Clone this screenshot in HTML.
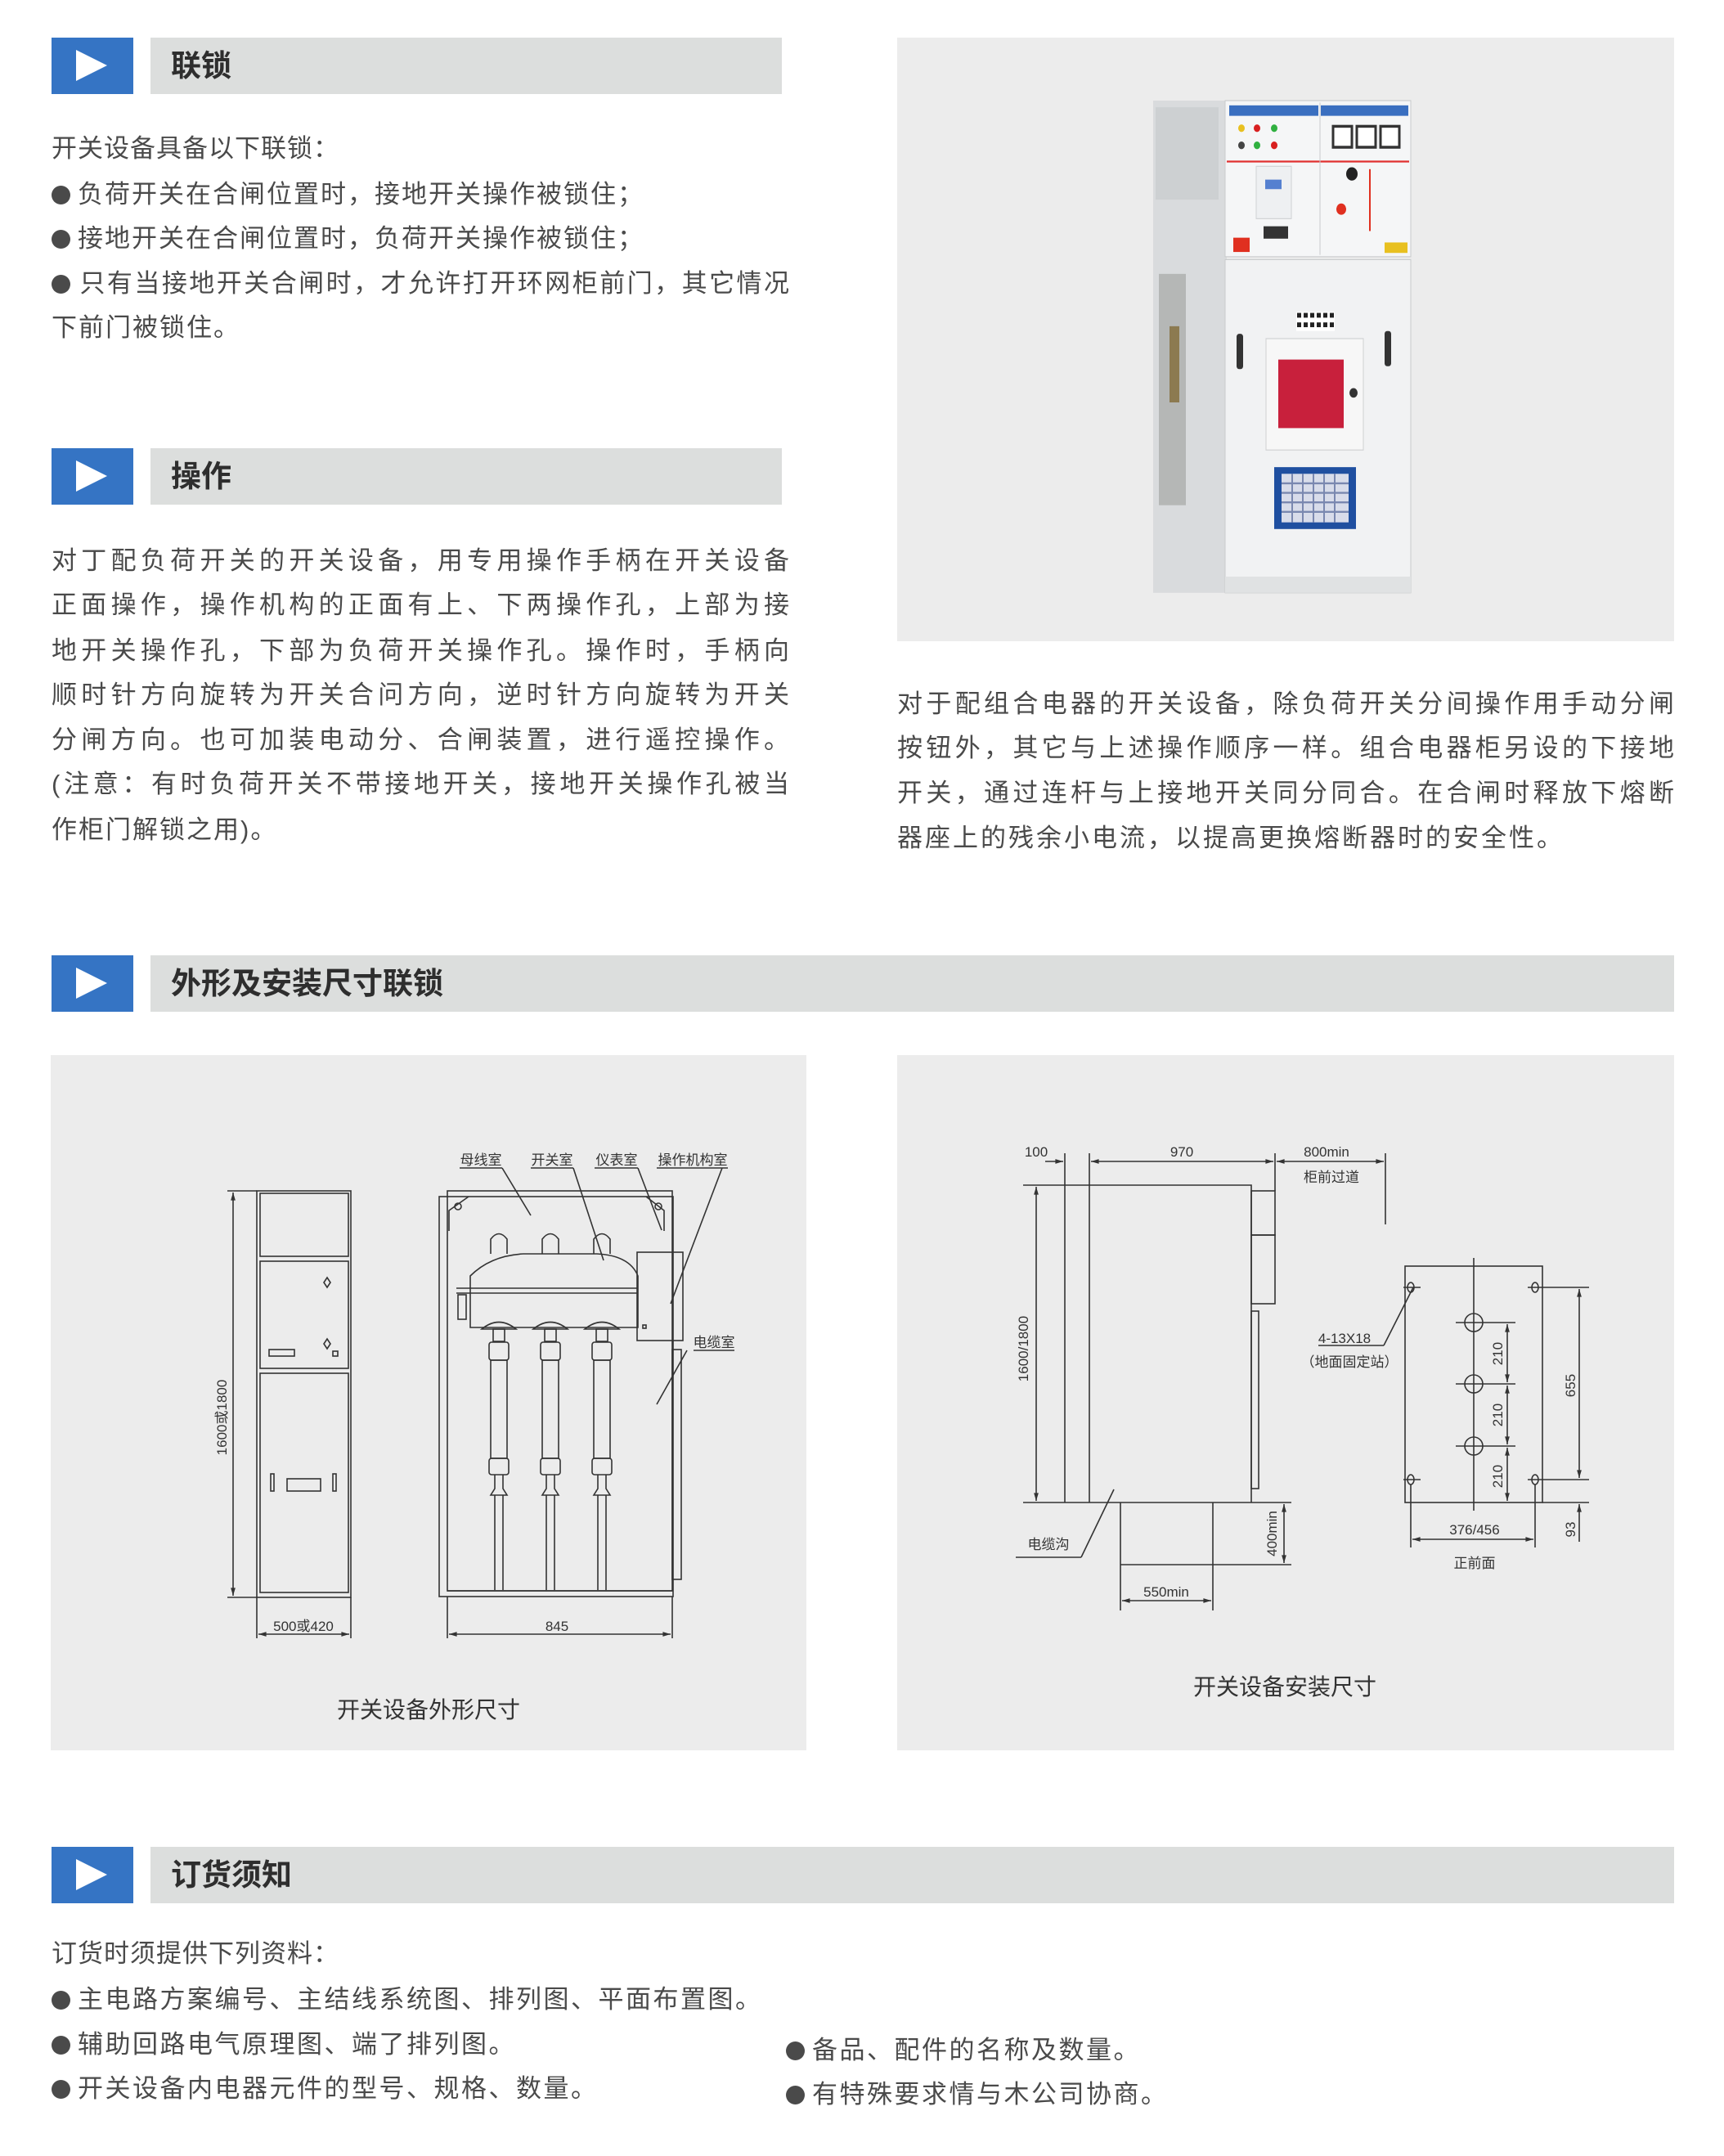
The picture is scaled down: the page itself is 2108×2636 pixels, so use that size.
<!DOCTYPE html>
<html><head><meta charset="utf-8">
<style>
*{margin:0;padding:0;box-sizing:border-box}
body{width:2108px;height:2636px;background:#fff;position:relative;overflow:hidden;font-family:"Liberation Sans","Noto Sans CJK SC",sans-serif;color:#4a4a4a}
.l{position:absolute;font-size:31px;line-height:54px;height:54px;white-space:nowrap}
.j{text-align:justify;text-align-last:justify}
.h{position:absolute;font-size:37px;font-weight:bold;color:#2e2e2e;line-height:69px;height:69px}
.b{display:inline-block;width:23px;height:23px;border-radius:50%;background:#4a4a4a;margin-right:9px;vertical-align:-2px}
svg{position:absolute;left:0;top:0}
</style></head><body>
<svg width="2108" height="2636" viewBox="0 0 2108 2636" font-family="Liberation Sans, Noto Sans CJK SC, sans-serif">
<defs>
<marker id="a" viewBox="0 0 10 10" refX="10" refY="5" markerWidth="9" markerHeight="6" orient="auto-start-reverse"><path d="M0,2 L10,5 L0,8 z" fill="#333"/></marker>
</defs>
<g>
<rect x="63" y="46" width="100" height="69" fill="#3574c4"/><path d="M93,61 L131,80 L93,99z" fill="#fff"/><rect x="184" y="46" width="772" height="69" fill="#dcdedd"/>
<rect x="63" y="548" width="100" height="69" fill="#3574c4"/><path d="M93,563 L131,582 L93,601z" fill="#fff"/><rect x="184" y="548" width="772" height="69" fill="#dcdedd"/>
<rect x="63" y="1168" width="100" height="69" fill="#3574c4"/><path d="M93,1183 L131,1202 L93,1221z" fill="#fff"/><rect x="184" y="1168" width="1863" height="69" fill="#dcdedd"/>
<rect x="63" y="2258" width="100" height="69" fill="#3574c4"/><path d="M93,2273 L131,2292 L93,2311z" fill="#fff"/><rect x="184" y="2258" width="1863" height="69" fill="#dcdedd"/>
</g>
<rect x="1097" y="46" width="950" height="738" fill="#ececec"/>
<g transform="translate(0,123) scale(1,1.164) translate(0,-123)">
<rect x="1410" y="123" width="90" height="517" fill="#d9dbdd"/>
<rect x="1413" y="130" width="77" height="97" fill="#cdd0d2"/>
<rect x="1417" y="305" width="33" height="243" fill="#b5b7b6"/>
<rect x="1430" y="360" width="12" height="80" fill="#8c7a50"/>
<rect x="1498" y="123" width="227" height="164" fill="#f5f6f7" stroke="#c9cbcc"/>
<rect x="1503" y="128" width="109" height="11" fill="#3a6fc0"/><rect x="1615" y="128" width="107" height="11" fill="#3a6fc0"/>
<line x1="1500" y1="187" x2="1723" y2="187" stroke="#e03030" stroke-width="2"/>
<line x1="1614" y1="125" x2="1614" y2="285" stroke="#c9cbcc"/>
<circle cx="1518" cy="152" r="4" fill="#e8c020"/><circle cx="1537" cy="152" r="4" fill="#d82020"/><circle cx="1558" cy="152" r="4" fill="#30b040"/>
<circle cx="1518" cy="170" r="4" fill="#444"/><circle cx="1537" cy="170" r="4" fill="#30b040"/><circle cx="1558" cy="170" r="4" fill="#d82020"/>
<rect x="1536" y="192" width="43" height="55" fill="#eef0f2" stroke="#d0d2d4"/><rect x="1547" y="206" width="20" height="10" fill="#5580d0"/>
<rect x="1545" y="255" width="30" height="13" fill="#333"/><rect x="1508" y="267" width="20" height="15" fill="#e03020"/>
<rect x="1630" y="150" width="23" height="22" fill="#fff" stroke="#333" stroke-width="3"/><rect x="1659" y="150" width="23" height="22" fill="#fff" stroke="#333" stroke-width="3"/><rect x="1688" y="150" width="23" height="22" fill="#fff" stroke="#333" stroke-width="3"/>
<circle cx="1653" cy="200" r="7" fill="#222"/><circle cx="1640" cy="237" r="6" fill="#e03020"/>
<path d="M1675,195 L1675,260" stroke="#e03020" stroke-width="2"/>
<rect x="1693" y="272" width="28" height="11" fill="#e8c020"/>
<rect x="1498" y="290" width="227" height="350" fill="#f1f2f3" stroke="#c9cbcc"/>
<rect x="1498" y="623" width="227" height="17" fill="#e0e2e3"/>
<rect x="1585" y="345" width="47" height="20" fill="#fff"/>
<g fill="#222"><rect x="1586" y="346" width="5" height="5"/><rect x="1594" y="346" width="5" height="5"/><rect x="1602" y="346" width="5" height="5"/><rect x="1610" y="346" width="5" height="5"/><rect x="1618" y="346" width="5" height="5"/><rect x="1626" y="346" width="5" height="5"/><rect x="1586" y="356" width="5" height="5"/><rect x="1594" y="356" width="5" height="5"/><rect x="1602" y="356" width="5" height="5"/><rect x="1610" y="356" width="5" height="5"/><rect x="1618" y="356" width="5" height="5"/><rect x="1626" y="356" width="5" height="5"/></g>
<rect x="1512" y="368" width="8" height="37" rx="3" fill="#333"/><rect x="1693" y="365" width="8" height="37" rx="3" fill="#333"/>
<rect x="1548" y="373" width="119" height="117" fill="#f7f7f7" stroke="#cfd1d2"/>
<rect x="1563" y="395" width="80" height="72" fill="#c8203c"/>
<circle cx="1655" cy="430" r="5" fill="#333"/>
<rect x="1558" y="508" width="100" height="65" fill="#1f4fa0"/>
<rect x="1567" y="515" width="82" height="51" fill="#d8dcea"/>
<g stroke="#7a88b0" stroke-width="2"><line x1="1567" y1="525" x2="1649" y2="525"/><line x1="1567" y1="535" x2="1649" y2="535"/><line x1="1567" y1="545" x2="1649" y2="545"/><line x1="1567" y1="555" x2="1649" y2="555"/><line x1="1580" y1="515" x2="1580" y2="566"/><line x1="1593" y1="515" x2="1593" y2="566"/><line x1="1606" y1="515" x2="1606" y2="566"/><line x1="1619" y1="515" x2="1619" y2="566"/><line x1="1632" y1="515" x2="1632" y2="566"/></g>
</g>
<rect x="62" y="1290" width="924" height="850" fill="#ececec"/>
<rect x="1097" y="1290" width="950" height="850" fill="#ececec"/>
<g fill="none" stroke="#333" stroke-width="1.6">
<rect x="314" y="1456" width="115" height="497"/>
<rect x="318" y="1459" width="108" height="77"/>
<rect x="318" y="1542" width="108" height="131"/>
<rect x="318" y="1679" width="108" height="268"/>
<path d="M400,1562 l4,6 l-4,6 l-4,-6z M400,1637 l4,6 l-4,6 l-4,-6z"/>
<rect x="329" y="1650" width="31" height="8"/><rect x="407" y="1652" width="6" height="6"/>
<rect x="331" y="1802" width="4" height="21"/><rect x="351" y="1808" width="41" height="15"/><rect x="407" y="1802" width="4" height="21"/>
<line x1="278" y1="1456" x2="314" y2="1456"/><line x1="278" y1="1953" x2="314" y2="1953"/>
<line x1="285" y1="1458" x2="285" y2="1951" marker-start="url(#a)" marker-end="url(#a)"/>
<line x1="314" y1="1953" x2="314" y2="2003"/><line x1="429" y1="1953" x2="429" y2="2003"/>
<line x1="316" y1="1998" x2="427" y2="1998" marker-start="url(#a)" marker-end="url(#a)"/>
<rect x="537" y="1463" width="286" height="489"/>
<rect x="547" y="1456" width="275" height="489"/>
<line x1="547" y1="1945" x2="822" y2="1945"/>
<rect x="822" y="1650" width="11" height="281"/>
<path d="M549,1505 L549,1480 L573,1463 M812,1505 L812,1480 L790,1463"/>
<circle cx="560" cy="1475" r="4"/><circle cx="805" cy="1475" r="4"/>
<path d="M575,1623 L575,1560 Q600,1535 640,1533 L730,1533 Q770,1535 780,1560 L780,1623 Z"/>
<line x1="558" y1="1575" x2="779" y2="1575"/><line x1="558" y1="1581" x2="779" y2="1581"/>
<rect x="560" y="1583" width="10" height="30"/>
<path d="M600,1533 L600,1515 Q610,1502 620,1515 L620,1533 M663,1533 L663,1515 Q673,1502 683,1515 L683,1533 M726,1533 L726,1515 Q736,1502 746,1515 L746,1533"/>
<path d="M589,1625 Q610,1608 631,1625 Z M652,1625 Q673,1608 694,1625 Z M715,1625 Q736,1608 757,1625 Z"/>
<rect x="603" y="1625" width="14" height="15"/><rect x="666" y="1625" width="14" height="15"/><rect x="729" y="1625" width="14" height="15"/>
<rect x="598" y="1641" width="24" height="22" rx="3"/><rect x="661" y="1641" width="24" height="22" rx="3"/><rect x="724" y="1641" width="24" height="22" rx="3"/>
<rect x="600" y="1663" width="20" height="120"/><rect x="663" y="1663" width="20" height="120"/><rect x="726" y="1663" width="20" height="120"/>
<rect x="598" y="1783" width="24" height="20" rx="3"/><rect x="661" y="1783" width="24" height="20" rx="3"/><rect x="724" y="1783" width="24" height="20" rx="3"/>
<path d="M605,1803 L605,1820 L600,1828 L620,1828 L615,1820 L615,1803 M668,1803 L668,1820 L663,1828 L683,1828 L678,1820 L678,1803 M731,1803 L731,1820 L726,1828 L746,1828 L741,1820 L741,1803"/>
<path d="M605,1828 V1944 M615,1828 V1944 M668,1828 V1944 M678,1828 V1944 M731,1828 V1944 M741,1828 V1944"/>
<rect x="779" y="1531" width="56" height="108"/><rect x="786" y="1620" width="4" height="4"/>
<line x1="562" y1="1428" x2="614" y2="1428"/><line x1="614" y1="1428" x2="649" y2="1486"/>
<line x1="649" y1="1428" x2="701" y2="1428"/><line x1="701" y1="1428" x2="738" y2="1541"/>
<line x1="727" y1="1428" x2="780" y2="1428"/><line x1="780" y1="1428" x2="809" y2="1504"/>
<line x1="803" y1="1428" x2="890" y2="1428"/><line x1="883" y1="1428" x2="820" y2="1594"/>
<line x1="848" y1="1651" x2="898" y2="1651"/><line x1="840" y1="1651" x2="803" y2="1717"/>
<line x1="547" y1="1952" x2="547" y2="2003"/><line x1="822" y1="1952" x2="822" y2="2003"/>
<line x1="549" y1="1998" x2="820" y2="1998" marker-start="url(#a)" marker-end="url(#a)"/>
</g>
<g font-size="17" fill="#333">
<text x="277" y="1733" transform="rotate(-90 277 1733)" text-anchor="middle">1600或1800</text>
<text x="371" y="1994" text-anchor="middle">500或420</text>
<text x="681" y="1994" text-anchor="middle">845</text>
<text x="588" y="1424" text-anchor="middle">母线室</text>
<text x="675" y="1424" text-anchor="middle">开关室</text>
<text x="754" y="1424" text-anchor="middle">仪表室</text>
<text x="847" y="1424" text-anchor="middle">操作机构室</text>
<text x="873" y="1647" text-anchor="middle">电缆室</text>
</g>
<g fill="none" stroke="#333" stroke-width="1.6">
<line x1="1302" y1="1410" x2="1302" y2="1837"/><line x1="1332" y1="1410" x2="1332" y2="1837"/>
<path d="M1332,1449 L1530,1449 L1530,1837"/>
<line x1="1559" y1="1410" x2="1559" y2="1456"/><line x1="1694" y1="1410" x2="1694" y2="1497"/>
<line x1="1278" y1="1420" x2="1300" y2="1420" marker-end="url(#a)"/>
<line x1="1334" y1="1420" x2="1557" y2="1420" marker-start="url(#a)" marker-end="url(#a)"/>
<line x1="1561" y1="1420" x2="1692" y2="1420" marker-start="url(#a)" marker-end="url(#a)"/>
<rect x="1530" y="1456" width="29" height="54"/><rect x="1530" y="1510" width="29" height="84"/><rect x="1530" y="1603" width="9" height="217"/>
<line x1="1251" y1="1449" x2="1332" y2="1449"/><line x1="1251" y1="1837" x2="1579" y2="1837"/>
<line x1="1267" y1="1451" x2="1267" y2="1835" marker-start="url(#a)" marker-end="url(#a)"/>
<line x1="1370" y1="1837" x2="1370" y2="1969"/><line x1="1483" y1="1837" x2="1483" y2="1969"/>
<line x1="1370" y1="1913" x2="1579" y2="1913"/>
<line x1="1570" y1="1839" x2="1570" y2="1911" marker-start="url(#a)" marker-end="url(#a)"/>
<line x1="1372" y1="1957" x2="1481" y2="1957" marker-start="url(#a)" marker-end="url(#a)"/>
<line x1="1242" y1="1904" x2="1322" y2="1904"/><line x1="1322" y1="1904" x2="1362" y2="1821"/>
<rect x="1718" y="1548" width="168" height="289"/>
<line x1="1802" y1="1538" x2="1802" y2="1847"/>
<ellipse cx="1725" cy="1574" rx="4" ry="6"/><ellipse cx="1877" cy="1574" rx="4" ry="6"/><ellipse cx="1725" cy="1809" rx="4" ry="6"/><ellipse cx="1877" cy="1809" rx="4" ry="6"/>
<path d="M1716,1574 H1737 M1716,1809 H1737 M1868,1574 H1943 M1868,1809 H1943 M1886,1837 H1943"/>
<circle cx="1802" cy="1617" r="11"/><circle cx="1802" cy="1692" r="11"/><circle cx="1802" cy="1768" r="11"/>
<path d="M1780,1617 H1853 M1780,1692 H1853 M1780,1768 H1853"/>
<line x1="1843" y1="1619" x2="1843" y2="1690" marker-start="url(#a)" marker-end="url(#a)"/>
<line x1="1843" y1="1694" x2="1843" y2="1766" marker-start="url(#a)" marker-end="url(#a)"/>
<line x1="1843" y1="1770" x2="1843" y2="1835" marker-start="url(#a)" marker-end="url(#a)"/>
<line x1="1931" y1="1576" x2="1931" y2="1807" marker-start="url(#a)" marker-end="url(#a)"/>
<line x1="1931" y1="1885" x2="1931" y2="1839" marker-end="url(#a)"/>
<line x1="1725" y1="1815" x2="1725" y2="1892"/><line x1="1877" y1="1815" x2="1877" y2="1892"/>
<line x1="1727" y1="1882" x2="1875" y2="1882" marker-start="url(#a)" marker-end="url(#a)"/>
<line x1="1612" y1="1645" x2="1692" y2="1645"/><line x1="1692" y1="1645" x2="1728" y2="1574"/>
</g>
<g font-size="17" fill="#333">
<text x="1267" y="1414" text-anchor="middle">100</text>
<text x="1445" y="1414" text-anchor="middle">970</text>
<text x="1622" y="1414" text-anchor="middle">800min</text>
<text x="1628" y="1445" text-anchor="middle">柜前过道</text>
<text x="1257" y="1649" transform="rotate(-90 1257 1649)" text-anchor="middle">1600/1800</text>
<text x="1561" y="1875" transform="rotate(-90 1561 1875)" text-anchor="middle">400min</text>
<text x="1426" y="1952" text-anchor="middle">550min</text>
<text x="1282" y="1894" text-anchor="middle">电缆沟</text>
<text x="1644" y="1642" text-anchor="middle">4-13X18</text>
<text x="1650" y="1671" text-anchor="middle">（地面固定站）</text>
<text x="1837" y="1655" transform="rotate(-90 1837 1655)" text-anchor="middle">210</text>
<text x="1837" y="1730" transform="rotate(-90 1837 1730)" text-anchor="middle">210</text>
<text x="1837" y="1805" transform="rotate(-90 1837 1805)" text-anchor="middle">210</text>
<text x="1926" y="1694" transform="rotate(-90 1926 1694)" text-anchor="middle">655</text>
<text x="1926" y="1870" transform="rotate(-90 1926 1870)" text-anchor="middle">93</text>
<text x="1803" y="1876" text-anchor="middle">376/456</text>
<text x="1803" y="1917" text-anchor="middle">正前面</text>
</g>
<g font-size="28" fill="#333" text-anchor="middle">
<text x="524" y="2100">开关设备外形尺寸</text>
<text x="1571" y="2072">开关设备安装尺寸</text>
</g>
</svg>

<div class="h" style="left:209px;top:46px">联锁</div>
<div class="h" style="left:209px;top:548px">操作</div>
<div class="h" style="left:209px;top:1168px">外形及安装尺寸联锁</div>
<div class="h" style="left:209px;top:2258px">订货须知</div>

<div class="l" style="left:63px;top:155px;letter-spacing:1px">开关设备具备以下联锁：</div>
<div class="l" style="left:63px;top:211px;letter-spacing:2px"><span class="b"></span>负荷开关在合闸位置时，接地开关操作被锁住；</div>
<div class="l" style="left:63px;top:265px;letter-spacing:2px"><span class="b"></span>接地开关在合闸位置时，负荷开关操作被锁住；</div>
<div class="l j" style="left:63px;top:320px;width:902px"><span class="b"></span>只有当接地开关合闸时，才允许打开环网柜前门，其它情况</div>
<div class="l" style="left:63px;top:374px;letter-spacing:2px">下前门被锁住。</div>

<div class="l j" style="left:63px;top:659px;width:902px">对丁配负荷开关的开关设备，用专用操作手柄在开关设备</div>
<div class="l j" style="left:63px;top:713px;width:902px">正面操作，操作机构的正面有上、下两操作孔，上部为接</div>
<div class="l j" style="left:63px;top:769px;width:902px">地开关操作孔，下部为负荷开关操作孔。操作时，手柄向</div>
<div class="l j" style="left:63px;top:823px;width:902px">顺时针方向旋转为开关合问方向，逆时针方向旋转为开关</div>
<div class="l j" style="left:63px;top:878px;width:902px">分闸方向。也可加装电动分、合闸装置，进行遥控操作。</div>
<div class="l j" style="left:63px;top:932px;width:902px">(注意：有时负荷开关不带接地开关，接地开关操作孔被当</div>
<div class="l" style="left:63px;top:988px;letter-spacing:2px">作柜门解锁之用)。</div>

<div class="l j" style="left:1097px;top:834px;width:950px">对于配组合电器的开关设备，除负荷开关分间操作用手动分闸</div>
<div class="l j" style="left:1097px;top:888px;width:950px">按钮外，其它与上述操作顺序一样。组合电器柜另设的下接地</div>
<div class="l j" style="left:1097px;top:943px;width:950px">开关，通过连杆与上接地开关同分同合。在合闸时释放下熔断</div>
<div class="l" style="left:1097px;top:998px;letter-spacing:3px">器座上的残余小电流，以提高更换熔断器时的安全性。</div>

<div class="l" style="left:63px;top:2362px;letter-spacing:1px">订货时须提供下列资料：</div>
<div class="l" style="left:63px;top:2418px;letter-spacing:2.5px"><span class="b"></span>主电路方案编号、主结线系统图、排列图、平面布置图。</div>
<div class="l" style="left:63px;top:2473px;letter-spacing:2.5px"><span class="b"></span>辅助回路电气原理图、端了排列图。</div>
<div class="l" style="left:63px;top:2527px;letter-spacing:2.5px"><span class="b"></span>开关设备内电器元件的型号、规格、数量。</div>
<div class="l" style="left:961px;top:2480px;letter-spacing:2.5px"><span class="b"></span>备品、配件的名称及数量。</div>
<div class="l" style="left:961px;top:2534px;letter-spacing:2.5px"><span class="b"></span>有特殊要求情与木公司协商。</div>
</body></html>
